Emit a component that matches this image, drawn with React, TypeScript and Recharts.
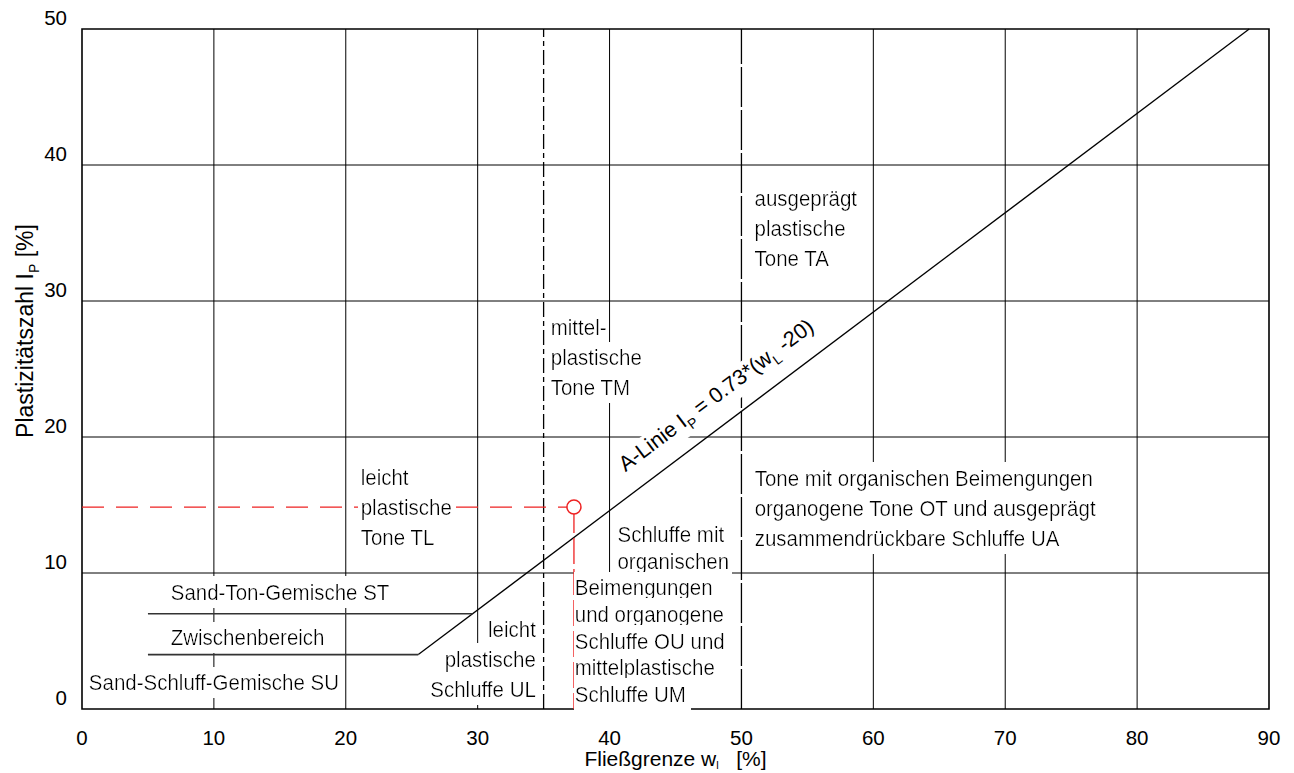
import React from 'react';
import {
  ComposedChart,
  Line,
  Scatter,
  XAxis,
  YAxis,
  ReferenceLine,
  ReferenceArea,
} from 'recharts';

const FONT = "'Liberation Sans', Arial, Helvetica, sans-serif";
const RED = '#ee2222';

// axes
const xTicks = [0, 10, 20, 30, 40, 50, 60, 70, 80, 90];
const yTicks = [0, 10, 20, 30, 40, 50];
const gridX = [10, 20, 30, 40, 60, 70, 80];
const gridY = [10, 20, 30, 40];

// boundaries (Fließgrenze / Plastizitätszahl)
const aLine = [
  { x: 25.5, y: 4 },
  { x: 88.5, y: 50 },
];
const stBoundary = [
  { x: 5, y: 7 },
  { x: 29.6, y: 7 },
];
const suBoundary = [
  { x: 5, y: 4 },
  { x: 25.5, y: 4 },
];

// sample
const sample = [{ x: 37.3, y: 14.85 }];
const sampleToY = [
  { x: 0, y: 14.85 },
  { x: 37.3, y: 14.85 },
];
const sampleToX = [
  { x: 37.3, y: 14.85 },
  { x: 37.3, y: 0 },
];

// zone texts, anchored at first baseline
const zoneText = [
  { id: 'st', x: 6.73, y: 8.0, lines: ['Sand-Ton-Gemische ST'] },
  { id: 'zw', x: 6.73, y: 4.68, lines: ['Zwischenbereich'] },
  { id: 'su', x: 0.52, y: 1.37, lines: ['Sand-Schluff-Gemische SU'] },
  { id: 'tl', x: 21.13, y: 16.45, lines: ['leicht', 'plastische', 'Tone TL'] },
  { id: 'tm', x: 35.54, y: 27.48, lines: ['mittel-', 'plastische', 'Tone TM'] },
  { id: 'ta', x: 50.99, y: 36.96, lines: ['ausgeprägt', 'plastische', 'Tone TA'] },
  {
    id: 'ot',
    x: 51.0,
    y: 16.4,
    lines: [
      'Tone mit organischen Beimengungen',
      'organogene Tone OT und ausgeprägt',
      'zusammendrückbare Schluffe UA',
    ],
  },
  { id: 'ou1', x: 40.6, y: 12.28, lines: ['Schluffe mit', 'organischen'] },
  {
    id: 'ou2',
    x: 37.36,
    y: 8.36,
    lines: ['Beimengungen', 'und organogene', 'Schluffe OU und', 'mittelplastische', 'Schluffe UM'],
  },
  { id: 'ul', x: 34.41, y: 5.3, lines: ['leicht', 'plastische', 'Schluffe UL'] },
];
const aLineLabel = [{ x: 41.2, y: 17.4 }];

const rightAligned = ['ul'];
const tightBlocks = ['ou1', 'ou2'];

function BgFilter({ id, padX = -0.02 }: { id: string; padX?: number }) {
  return (
    <defs>
      <filter id={id} x={padX} y={-0.08} width={1.04} height={1.16}>
        <feFlood floodColor="#fff" />
        <feMerge>
          <feMergeNode />
          <feMergeNode in="SourceGraphic" />
        </feMerge>
      </filter>
    </defs>
  );
}

function ZoneLabel(props: any) {
  const { cx, cy, payload } = props;
  if (cx == null || cy == null) return null;
  const anchor = rightAligned.includes(payload.id) ? 'end' : 'start';
  const step = tightBlocks.includes(payload.id) ? 26.6 : 30;
  const fid = `bg-${payload.id}`;
  return (
    <g>
      <BgFilter id={fid} padX={payload.id === 'ou2' ? 0 : -0.02} />
      {payload.lines.map((t: string, i: number) => (
        <text
          key={i}
          transform={`translate(${cx} ${cy + i * step}) scale(1 1.12)`}
          textAnchor={anchor}
          filter={`url(#${fid})`}
          fontSize={20.5}
          fontFamily={FONT}
          fill="#000"
        >
          {t}
        </text>
      ))}
    </g>
  );
}

function ALineText(props: any) {
  const { cx, cy } = props;
  if (cx == null || cy == null) return null;
  return (
    <g transform={`translate(${cx} ${cy}) rotate(-37)`}>
      <rect x={-3} y={-19} width={243} height={29} fill="#fff" />
      <text x={0} y={0} fontSize={21.5} fontFamily={FONT} fill="#000">
        A-Linie I
        <tspan fontSize={14} dy={6}>P</tspan>
        <tspan dy={-6}> = 0.73*(w</tspan>
        <tspan fontSize={14} dy={6}>L</tspan>
        <tspan dy={-6}> -20)</tspan>
      </text>
    </g>
  );
}

const XTick = (p: any) => (
  <text x={p.x} y={p.y + 36} textAnchor="middle" fontSize={20.5} fontFamily={FONT} fill="#000">
    {p.payload.value}
  </text>
);

const YTick = (p: any) => (
  <text x={p.x - 15} y={p.y - 4} textAnchor="end" fontSize={20.5} fontFamily={FONT} fill="#000">
    {p.payload.value}
  </text>
);

const XTitle = (props: any) => {
  const vb = props.viewBox || { x: 82, y: 709, width: 1187, height: 64 };
  return (
    <text
      x={vb.x + vb.width / 2}
      y={vb.y + 57}
      textAnchor="middle"
      fontSize={21}
      fontFamily={FONT}
      fill="#000"
    >
      Fließgrenze w
      <tspan fontSize={11} dy={3}>l</tspan>
      <tspan dy={-3}>{'\u00a0\u00a0\u00a0[%]'}</tspan>
    </text>
  );
};

const YTitle = (props: any) => {
  const vb = props.viewBox || { x: 0, y: 29, width: 82, height: 680 };
  return (
    <text
      transform={`translate(${vb.x + 33} ${vb.y + 302}) rotate(-90)`}
      textAnchor="middle"
      fontSize={23}
      fontFamily={FONT}
      fill="#000"
    >
      Plastizitätszahl I
      <tspan fontSize={14} dy={6}>P</tspan>
      <tspan dy={-6}> [%]</tspan>
    </text>
  );
};

export default function App() {
  return (
    <div style={{ position: 'absolute', left: 0, top: 0, width: 1294, height: 773, background: '#fff' }}>
      <ComposedChart width={1294} height={773} margin={{ top: 29, right: 25, bottom: 0, left: 0 }}>
        <XAxis
          type="number"
          dataKey="x"
          domain={[0, 90]}
          ticks={xTicks}
          interval={0}
          tick={XTick}
          tickLine={false}
          axisLine={false}
          tickSize={0}
          tickMargin={0}
          height={64}
          label={{ content: XTitle }}
        />
        <YAxis
          type="number"
          dataKey="y"
          domain={[0, 50]}
          ticks={yTicks}
          interval={0}
          tick={YTick}
          tickLine={false}
          axisLine={false}
          tickSize={0}
          tickMargin={0}
          width={82}
          label={{ content: YTitle }}
        />

        {gridX.map((v) => (
          <ReferenceLine key={`gx${v}`} x={v} stroke="#000" strokeWidth={1} />
        ))}
        {gridY.map((v) => (
          <ReferenceLine key={`gy${v}`} y={v} stroke="#000" strokeWidth={1} />
        ))}
        <ReferenceLine x={35} stroke="#000" strokeWidth={1.3} strokeDasharray="15 4 5 4" />
        <ReferenceLine x={50} stroke="#000" strokeWidth={1.3} strokeDasharray="40 3" />
        <ReferenceArea x1={0} x2={90} y1={0} y2={50} fill="none" stroke="#000" strokeWidth={1.6} />

        <Line data={aLine} dataKey="y" type="linear" stroke="#000" strokeWidth={1.3} dot={false} isAnimationActive={false} />
        <Line data={stBoundary} dataKey="y" type="linear" stroke="#333" strokeWidth={1.6} dot={false} isAnimationActive={false} />
        <Line data={suBoundary} dataKey="y" type="linear" stroke="#333" strokeWidth={1.6} dot={false} isAnimationActive={false} />
        <Line data={sampleToY} dataKey="y" type="linear" stroke={RED} strokeWidth={1.3} strokeDasharray="22 12" dot={false} isAnimationActive={false} />

        <Scatter data={zoneText} dataKey="y" shape={ZoneLabel} isAnimationActive={false} />
        <Scatter data={aLineLabel} dataKey="y" shape={ALineText} isAnimationActive={false} />

        <Line data={sampleToX} dataKey="y" type="linear" stroke={RED} strokeWidth={1.3} strokeDasharray="26 5" dot={false} isAnimationActive={false} />
        <Scatter
          data={sample}
          dataKey="y"
          isAnimationActive={false}
          shape={(p: any) => <circle cx={p.cx} cy={p.cy} r={7} fill="#fff" stroke={RED} strokeWidth={1.5} />}
        />
      </ComposedChart>
    </div>
  );
}
